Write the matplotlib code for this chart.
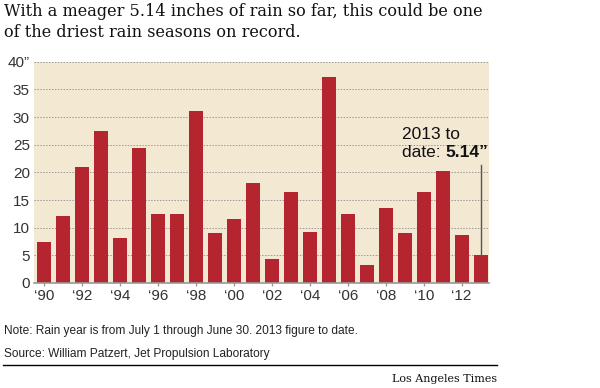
import matplotlib
matplotlib.use("Agg")
import matplotlib.pyplot as plt

# rain year totals, inches
years = list(range(1990, 2014))
rain = [7.4, 12.1, 21.0, 27.4, 8.1, 24.4, 12.5, 12.4, 31.1, 9.1, 11.6, 18.0,
        4.4, 16.4, 9.3, 37.3, 12.4, 3.2, 13.6, 9.1, 16.4, 20.2, 8.7, 5.14]
yticks = [0, 5, 10, 15, 20, 25, 30, 35, 40]
ylabels = ["0", "5", "10", "15", "20", "25", "30", "35", "40\u201d"]

bar_col = "#b5252f"
tan = "#f3e8d2"
sans = ["Liberation Sans Narrow", "Liberation Sans", "DejaVu Sans"]

fig = plt.figure(figsize=(6, 3.88), dpi=100)
ax = fig.add_axes([34/600, 1-283/388, 455/600, (283-61.7)/388])
ax.set_facecolor(tan)

x = list(range(len(years)))
ax.bar(x, rain, width=0.75, color=bar_col, zorder=3)

ax.set_xlim(-0.53, 23.44)
ax.set_ylim(0, 40)
for y in yticks[1:]:
    ax.axhline(y, color="#999999", lw=0.7, ls=(0, (1.5, 1.5)), zorder=1)

# year ticks every other year
tick_pos = [i for i, yr in enumerate(years) if yr % 2 == 0]
tick_lab = ["\u2018" + str(years[i])[2:] for i in tick_pos]
ax.set_xticks(tick_pos)
ax.set_xticklabels(tick_lab, family=sans, fontsize=11, color="#333333")
ax.set_yticks(yticks)
ax.set_yticklabels(ylabels, family=sans, fontsize=11, color="#333333")
ax.tick_params(axis="x", length=5, width=1, color="#999999", direction="inout", pad=2)
ax.tick_params(axis="y", length=0, pad=3)
for s in ["top", "right", "left"]:
    ax.spines[s].set_visible(False)
ax.spines["bottom"].set_color("#999999")
ax.spines["bottom"].set_linewidth(1.2)
ax.spines["bottom"].set_zorder(4)

# callout for 2013
last = len(years) - 1
ax.plot([last, last], [rain[-1], 21.3], color="#555555", lw=1, zorder=4)
tx = 18.85
ax.text(tx, 26.0, "2013 to", family=sans, fontsize=12.5, ha="left",
        va="baseline", color="#111111", zorder=5)
d = ax.text(tx, 22.8, "date: ", family=sans, fontsize=12.5, ha="left",
            va="baseline", color="#111111", zorder=5)
fig.canvas.draw()
bb = d.get_window_extent().transformed(ax.transData.inverted())
ax.text(bb.x1, 22.8, "5.14\u201d", family=sans, fontsize=12.5, fontweight="bold",
        ha="left", va="baseline", color="#111111", zorder=5)

fig.text(0.006, 0.992, "With a meager 5.14 inches of rain so far, this could be one\n"
         "of the driest rain seasons on record.", family="DejaVu Serif",
         fontsize=11.6, va="top", ha="left", color="#111111", linespacing=1.3)

fig.text(0.006, 1-334/388, "Note: Rain year is from July 1 through June 30. 2013 figure to date.",
         family=sans, fontsize=8.6, color="#222222", va="baseline")
fig.text(0.006, 1-357/388, "Source: William Patzert, Jet Propulsion Laboratory",
         family=sans, fontsize=8.6, color="#222222", va="baseline")
fig.add_artist(plt.Line2D([3/600, 497/600], [1-365/388, 1-365/388], color="black", lw=1))
fig.text(497/600, 1-382/388, "Los Angeles Times", family="DejaVu Serif", fontsize=8,
         ha="right", va="baseline", color="#111111")

fig.savefig("out.png", dpi=100, facecolor="white")
